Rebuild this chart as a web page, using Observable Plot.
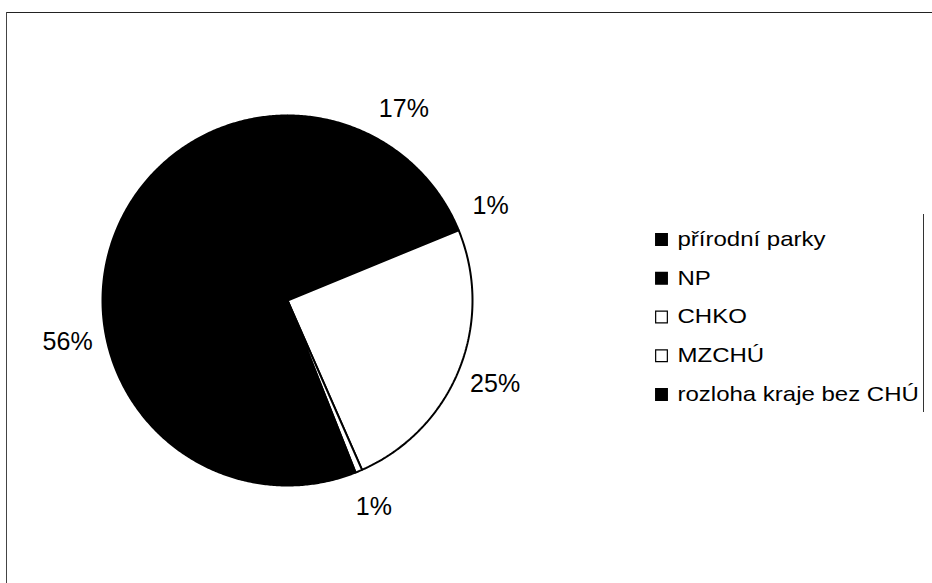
<!DOCTYPE html>
<html>
<head>
<meta charset="utf-8">
<script src="https://cdn.jsdelivr.net/npm/d3@7"></script>
<script src="https://cdn.jsdelivr.net/npm/@observablehq/plot@0.6"></script>
<style>
  html, body { margin: 0; padding: 0; background: #fff; }
  #chart svg { display: block; }
</style>
</head>
<body>
<div id="chart"></div>
<script>
// ---- data ----
const categories = ["přírodní parky", "NP", "CHKO", "MZCHÚ", "rozloha kraje bez CHÚ"];
const shares = [17.4, 1.4, 24.6, 0.6, 56.0];          // percent of area
const labels = ["17%", "1%", "25%", "1%", "56%"];
const fills = ["#000", "#000", "#fff", "#fff", "#000"];

// ---- layout ----
const W = 932, H = 583;
const cx = 287, cy = 300, R = 185;
const labelR = R * 1.21;

const pie = d3.pie().sort(null).value(d => d)(shares);

const slicePts = [];
pie.forEach((p, i) => {
  slicePts.push({name: categories[i], x: cx, y: cy, fill: fills[i]});
  const n = Math.max(4, Math.ceil((p.endAngle - p.startAngle) / (Math.PI / 360)));
  for (let k = 0; k <= n; k++) {
    const a = p.startAngle + (p.endAngle - p.startAngle) * k / n;
    slicePts.push({name: categories[i], x: cx + R * Math.sin(a), y: cy - R * Math.cos(a), fill: fills[i]});
  }
});

const labelData = pie.map((p, i) => {
  const a = (p.startAngle + p.endAngle) / 2;
  return {text: labels[i], x: cx + labelR * Math.sin(a), y: cy - labelR * Math.cos(a)};
});

const legX = 661, legY0 = 239, legDY = 38.75;
const legend = categories.map((c, i) => ({name: c, x: legX, y: legY0 + i * legDY, fill: fills[i]}));

const chart = Plot.plot({
  width: W,
  height: H,
  margin: 0,
  x: {domain: [0, W], range: [0, W], axis: null},
  y: {domain: [0, H], range: [0, H], axis: null},
  style: {fontFamily: "'Liberation Sans', Arial, sans-serif", background: "#fff"},
  marks: [
    // chart border (top and left) and legend right edge
    Plot.ruleY([12], {x1: 6, x2: W, stroke: "#222", strokeWidth: 1}),
    Plot.ruleX([6], {y1: 12, y2: H, stroke: "#444", strokeWidth: 1}),
    Plot.ruleX([923], {y1: 214, y2: 412, stroke: "#333", strokeWidth: 1}),
    // pie slices
    Plot.line(slicePts, {x: "x", y: "y", z: "name", fill: "fill", stroke: "#000", strokeWidth: 2, curve: "linear-closed", strokeLinejoin: "miter"}),
    // percentage labels
    Plot.text(labelData, {x: "x", y: "y", text: "text", fontSize: 25, fill: "#000", textAnchor: "middle", lineAnchor: "middle"}),
    // legend
    Plot.dot(legend, {x: "x", y: "y", symbol: "square", r: 6.6, fill: "fill", stroke: "#000", strokeWidth: 1.2}),
    Plot.text(legend, {x: d => d.x + 16, y: "y", text: "name", fontSize: 20, fill: "#000", textAnchor: "start", lineAnchor: "middle"})
  ]
});

// legend text in the reference is horizontally wide: stretch it
d3.select(chart).selectAll("text").each(function() {
  const t = this.textContent;
  if (categories.includes(t)) {
    const tr = this.getAttribute("transform");
    if (tr) {
      this.setAttribute("transform", tr + " scale(1.2,1)");
    } else {
      const x = +this.getAttribute("x") || 0, y = +this.getAttribute("y") || 0;
      this.removeAttribute("x"); this.removeAttribute("y");
      this.setAttribute("transform", `translate(${x},${y}) scale(1.2,1)`);
    }
  }
});

document.getElementById("chart").appendChild(chart);
</script>
</body>
</html>
